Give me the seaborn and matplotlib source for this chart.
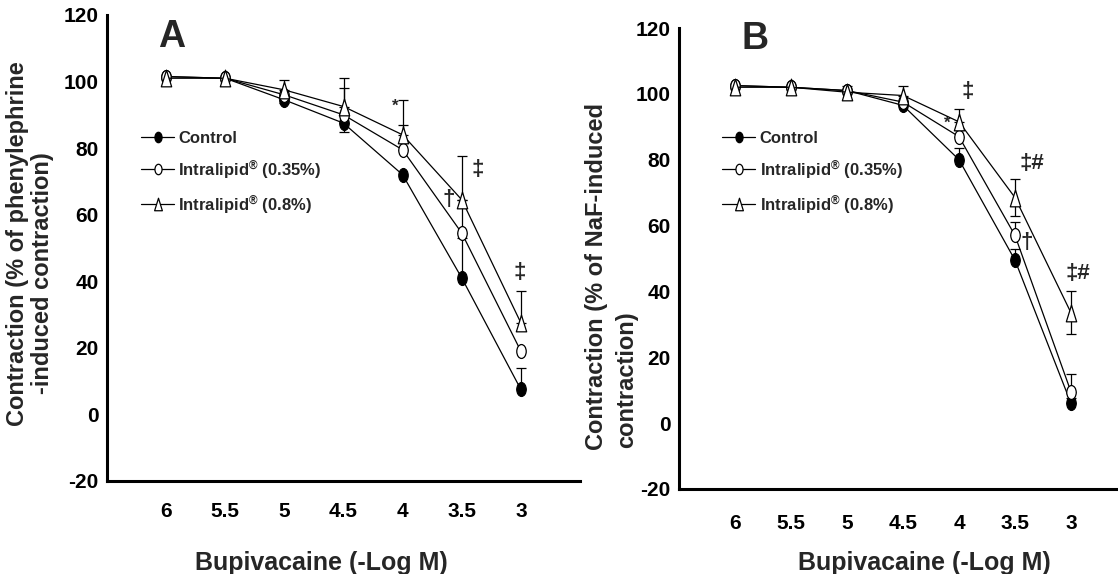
import numpy as np
import pandas as pd
import matplotlib
matplotlib.use("Agg")
import matplotlib.pyplot as plt
import seaborn as sns
from matplotlib.path import Path

# ---------------- data ----------------
conc_labels = ["6", "5.5", "5", "4.5", "4", "3.5", "3"]
group_names = ["Control", "Intralipid$^{®}$ (0.35%)", "Intralipid$^{®}$ (0.8%)"]

# Panel A (phenylephrine)
ctrl_A = [101.5, 101, 94.5, 87.5, 72, 41, 7.5]
lip35_A = [101.5, 101, 96, 90, 79.5, 54.5, 19]
lip8_A = [101, 101, 97.5, 92.5, 84, 64.5, 27.5]
ctrl_A_up = [0, 0, 0, 0, 0, 12, 6.5]
ctrl_A_lo = [0, 0, 1, 2.7, 0, 0, 0]
lip35_A_up = [0, 0, 0, 8, 7.5, 10, 0]
lip35_A_lo = [0, 0, 0, 0, 0, 0, 0]
lip8_A_up = [0, 0, 3, 8.5, 10.5, 13, 9.5]
lip8_A_lo = [0, 0, 0, 0, 0, 0, 0]

# Panel B (NaF)
ctrl_B = [102.5, 102, 101, 96.5, 80, 49.5, 6]
lip35_B = [102.5, 102, 101, 97.5, 87, 57, 9.5]
lip8_B = [102, 102, 100.5, 99.5, 91.5, 68.5, 33.5]
ctrl_B_up = [0, 0, 0, 0, 3.5, 3.5, 1.5]
ctrl_B_lo = [0, 0, 0, 0, 0, 0, 0]
lip35_B_up = [0, 0, 0, 0, 2, 4, 5.5]
lip35_B_lo = [0, 0, 0, 0, 0, 0, 0]
lip8_B_up = [0, 0, 2, 3, 4, 5.5, 6.5]
lip8_B_lo = [0, 0, 0, 0, 0, 5.5, 6.5]

# significance marks: (label, x-position index, y value)
marks_A = [("*", 3.88, 92.5), ("†", 4.78, 64.5), ("‡", 5.27, 73.5), ("‡", 5.98, 42.6)]
marks_B = [("‡", 4.16, 100.7), ("*", 3.79, 91), ("‡#", 5.3, 78.8), ("†", 5.21, 54.8), ("‡#", 6.12, 45.5)]

y_ticks = [-20, 0, 20, 40, 60, 80, 100, 120]

# ---------------- style ----------------
sns.set_style("white")
plt.rcParams["font.family"] = ["Liberation Sans", "DejaVu Sans"]
plt.rcParams["font.weight"] = "bold"
plt.rcParams["mathtext.fontset"] = "custom"
plt.rcParams["mathtext.rm"] = "Liberation Sans:bold"
plt.rcParams["mathtext.it"] = "Liberation Sans:bold"
plt.rcParams["mathtext.bf"] = "Liberation Sans:bold"

circ = Path.unit_circle()
ellipse = Path(circ.vertices * np.array([0.68, 1.0]), circ.codes)
tri = Path([(-0.62, -1.0), (0.62, -1.0), (0.0, 1.0), (-0.62, -1.0)],
           [Path.MOVETO, Path.LINETO, Path.LINETO, Path.CLOSEPOLY])

styles = [
    dict(marker=ellipse, markerfacecolor="black", markersize=10),
    dict(marker=ellipse, markerfacecolor="white", markersize=10),
    dict(marker=tri, markerfacecolor="white", markersize=12),
]

W, H = 1118, 574
fig = plt.figure(figsize=(W / 100, H / 100), dpi=100)


def fx(px):
    return px / W


def fy(py):
    return 1 - py / H


def draw_panel(ax, series, ups, los, marks, letter, letter_pos, xpad):
    pos = np.arange(len(conc_labels))
    for i, (vals, st) in enumerate(zip(series, styles)):
        df = pd.DataFrame({"pos": pos, "value": vals})
        up = np.array(ups[i])
        lo = np.array(los[i])
        sel = (up > 0) | (lo > 0)
        ax.errorbar(pos[sel], np.array(vals)[sel], yerr=[lo[sel], up[sel]], fmt="none",
                    ecolor="black", elinewidth=0.9, capsize=3.5, capthick=0.9, zorder=2)
        sns.lineplot(data=df, x="pos", y="value", ax=ax, color="black", linewidth=0.9,
                     markeredgecolor="black", markeredgewidth=0.9, label=group_names[i],
                     errorbar=None, zorder=3 + i * 0.1, **st)
    for txt, x, y in marks:
        size = 12 if txt == "*" else 16
        ax.text(x, y, txt, ha="center", va="center", fontsize=size, fontweight="bold")
    ax.text(letter_pos[0], letter_pos[1], letter, transform=ax.transAxes, ha="center",
            va="center", fontsize=27, fontweight="bold")
    ax.set_xlim(-1, 7)
    ax.set_ylim(-20, 120)
    ax.set_xticks(list(pos) + [7])
    ax.set_xticklabels(conc_labels + [""])
    ax.set_yticks(y_ticks)
    ax.set_yticklabels([str(t) for t in y_ticks])
    ax.set_xlabel("")
    ax.set_ylabel("")
    sns.despine(ax=ax)
    for s in ["left", "bottom"]:
        ax.spines[s].set_linewidth(2.2)
        ax.spines[s].set_color("black")
    ax.tick_params(axis="x", direction="in", length=6, width=2, pad=xpad, labelsize=15,
                   colors="black")
    ax.tick_params(axis="y", direction="in", length=4, width=2, pad=6, labelsize=15,
                   colors="black")
    for lab in ax.get_xticklabels() + ax.get_yticklabels():
        lab.set_fontweight("bold")
    h, l = ax.get_legend_handles_labels()
    if ax.legend_:
        ax.legend_.remove()
    return h, l


# Panel A
axA = fig.add_axes([fx(107), fy(481), fx(580 - 107), (481 - 15) / H])
hA, lA = draw_panel(axA, [ctrl_A, lip35_A, lip8_A],
                    [ctrl_A_up, lip35_A_up, lip8_A_up],
                    [ctrl_A_lo, lip35_A_lo, lip8_A_lo],
                    marks_A, "A", (0.137, 0.953), 15)
# Panel B
axB = fig.add_axes([fx(679), fy(489), fx(1127 - 679), (489 - 28) / H])
hB, lB = draw_panel(axB, [ctrl_B, lip35_B, lip8_B],
                    [ctrl_B_up, lip35_B_up, lip8_B_up],
                    [ctrl_B_lo, lip35_B_lo, lip8_B_lo],
                    marks_B, "B", (0.17, 0.976), 18)

leg_kw = dict(loc="upper left", frameon=False, borderpad=0, borderaxespad=0,
              handlelength=2.0, handletextpad=0.25, labelspacing=0.72, markerscale=0.75,
              prop={"weight": "bold", "size": 12})
axA.legend(hA, lA, bbox_to_anchor=(fx(141), fy(131)), bbox_transform=fig.transFigure, **leg_kw)
axB.legend(hB, lB, bbox_to_anchor=(fx(722), fy(131)), bbox_transform=fig.transFigure, **leg_kw)

# axis titles
fig.text(fx(321), fy(563), "Bupivacaine (-Log M)", ha="center", va="center",
         fontsize=18, fontweight="bold")
fig.text(fx(924), fy(563), "Bupivacaine (-Log M)", ha="center", va="center",
         fontsize=18, fontweight="bold")
fig.text(fx(18), fy(426), "Contraction (% of phenylephrine", rotation=90, ha="center",
         va="bottom", fontsize=17, fontweight="bold")
fig.text(fx(43), fy(394), "-induced contraction)", rotation=90, ha="center",
         va="bottom", fontsize=17, fontweight="bold")
fig.text(fx(597), fy(450), "Contraction (% of NaF-induced", rotation=90, ha="center",
         va="bottom", fontsize=17, fontweight="bold")
fig.text(fx(627), fy(448), "contraction)", rotation=90, ha="center",
         va="bottom", fontsize=17, fontweight="bold")

fig.savefig("out.png", dpi=100, facecolor="white")
